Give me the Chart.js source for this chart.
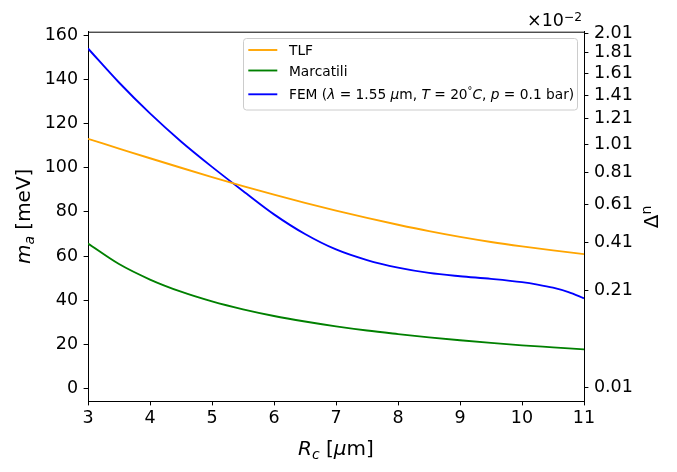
<!DOCTYPE html>
<html><head><meta charset="utf-8">
<script src="https://cdn.jsdelivr.net/npm/chart.js@4.4.1/dist/chart.umd.min.js"></script>
<style>html,body{margin:0;padding:0;background:#fff;}#wrap{width:677px;height:472px;position:relative;}</style>
</head><body><div id="wrap"><canvas id="c"></canvas></div>
<script>
// ---- data ----
const rc = [3, 3.5, 4, 4.5, 5, 5.5, 6, 6.5, 7, 7.5, 8, 8.5, 9, 9.5, 10, 10.5, 11];
const tlf = [113.1, 108.7, 104.3, 100.0, 95.8, 91.7, 87.8, 84.1, 80.6, 77.3, 74.2, 71.3, 68.7, 66.4, 64.4, 62.6, 60.9];
const marcatili = [65.7, 56.4, 49.4, 43.9, 39.5, 35.9, 32.9, 30.4, 28.2, 26.3, 24.7, 23.2, 21.9, 20.7, 19.6, 18.7, 17.8];
const femRc = [3, 3.5, 4, 4.5, 5, 5.5, 6, 6.5, 7, 7.5, 8, 8.5, 9, 9.5, 10, 10.25, 10.5, 10.75, 11];
const fem = [154.0, 138.6, 124.6, 111.9, 100.4, 89.5, 78.9, 70.0, 63.0, 58.2, 54.8, 52.4, 50.9, 49.7, 48.2, 47.1, 45.7, 43.7, 40.9];
const xTicks = [3, 4, 5, 6, 7, 8, 9, 10, 11];
const yTicks = [0, 20, 40, 60, 80, 100, 120, 140, 160];
const dnTicks = [0.01, 0.21, 0.41, 0.61, 0.81, 1.01, 1.21, 1.41, 1.61, 1.81, 2.01];
const dnLabels = ['0.01', '0.21', '0.41', '0.61', '0.81', '1.01', '1.21', '1.41', '1.61', '1.81', '2.01'];
const seriesLabels = ['TLF', 'Marcatili', 'FEM (λ = 1.55 μm, T = 20°C, p = 0.1 bar)'];
const seriesColors = ['#FFA500', '#008000', '#0000FF'];
const seriesX = [rc, rc, femRc];
const seriesValues = [tlf, marcatili, fem];

// secondary axis relation between Δn (×1e-2) and m_a
const DN_K = 121.5, DN_C = -11.45;
const dnToMa = d => DN_K * Math.sqrt(d) + DN_C;
const Y_MIN = -5.6, Y_MAX = 161.6;

const FONT = '"DejaVu Sans"';
function fnt(size, italic) { return (italic ? 'italic ' : '') + size + 'px ' + FONT; }
function drawRich(ctx, segs, x, y, size, align) {
  const parts = segs.map(s => {
    const sz = (s.sup || s.sub) ? size * 0.7 : size;
    ctx.font = fnt(sz, s.i);
    return { s, sz, w: ctx.measureText(s.t).width };
  });
  const total = parts.reduce((a, p) => a + p.w, 0);
  let cx = align === 'center' ? x - total / 2 : align === 'right' ? x - total : x;
  ctx.textAlign = 'left';
  ctx.textBaseline = 'alphabetic';
  for (const p of parts) {
    ctx.font = fnt(p.sz, p.s.i);
    let dy = 0;
    if (p.s.sup) dy = -(p.s.raise != null ? p.s.raise : size * 0.38);
    if (p.s.sub) dy = size * 0.2;
    ctx.fillText(p.s.t, cx, y + dy);
    cx += p.w;
  }
}

const richLegend = [
  [{ t: 'TLF' }],
  [{ t: 'Marcatili' }],
  [{ t: 'FEM (' }, { t: 'λ', i: 1 }, { t: ' = 1.55 ' }, { t: 'μ', i: 1 }, { t: 'm, ' }, { t: 'T', i: 1 }, { t: ' = 20' },
   { t: '°', sup: 1 }, { t: 'C', i: 1 }, { t: ', ' }, { t: 'p', i: 1 }, { t: ' = 0.1 bar)' }]
];

const decor = {
  id: 'decor',
  afterDraw(chart) {
    const ctx = chart.ctx, a = chart.chartArea;
    ctx.save();
    // top spine
    ctx.strokeStyle = '#000'; ctx.lineWidth = 1;
    ctx.beginPath(); ctx.moveTo(a.left, a.top + 0.5); ctx.lineTo(a.right, a.top + 0.5); ctx.stroke();

    // legend
    const bx = 243.5, by = 38.5, bw = 334, bh = 71.5, r = 3;
    ctx.beginPath();
    ctx.moveTo(bx + r, by); ctx.lineTo(bx + bw - r, by); ctx.arcTo(bx + bw, by, bx + bw, by + r, r);
    ctx.lineTo(bx + bw, by + bh - r); ctx.arcTo(bx + bw, by + bh, bx + bw - r, by + bh, r);
    ctx.lineTo(bx + r, by + bh); ctx.arcTo(bx, by + bh, bx, by + bh - r, r);
    ctx.lineTo(bx, by + r); ctx.arcTo(bx, by, bx + r, by, r); ctx.closePath();
    ctx.fillStyle = 'rgba(255,255,255,0.8)'; ctx.fill();
    ctx.strokeStyle = '#cccccc'; ctx.lineWidth = 1; ctx.stroke();
    const lineY = [50, 70.5, 94.3], textY = [55.3, 76, 99.3];
    chart.data.datasets.forEach((ds, i) => {
      ctx.strokeStyle = ds.borderColor; ctx.lineWidth = 1.875;
      ctx.beginPath(); ctx.moveTo(248.3, lineY[i]); ctx.lineTo(277.3, lineY[i]); ctx.stroke();
      ctx.fillStyle = '#000';
      drawRich(ctx, richLegend[i], 289, textY[i], 13.75, 'left');
    });

    ctx.fillStyle = '#000';
    // x title
    drawRich(ctx, [{ t: 'R', i: 1 }, { t: 'c', i: 1, sub: 1 }, { t: ' [' }, { t: 'μ', i: 1 }, { t: 'm]' }],
      (a.left + a.right) / 2, 455, 20, 'center');
    // left y title
    ctx.save();
    ctx.translate(30, (a.top + a.bottom) / 2); ctx.rotate(-Math.PI / 2);
    drawRich(ctx, [{ t: 'm', i: 1 }, { t: 'a', i: 1, sub: 1 }, { t: ' [meV]' }], 0, 0, 20, 'center');
    ctx.restore();
    // right y title
    ctx.save();
    ctx.translate(658, 217); ctx.rotate(-Math.PI / 2);
    drawRich(ctx, [{ t: 'Δ' }, { t: 'n', sup: 1, raise: 7 }], 0, 0, 20, 'center');
    ctx.restore();
    // offset text
    drawRich(ctx, [{ t: '×10' }, { t: '−2', sup: 1, raise: 5.5 }], 582, 26, 17.5, 'right');
    ctx.restore();
  }
};

const tickFont = { family: 'DejaVu Sans', size: 17.5 };
const gridCfg = { drawOnChartArea: false, drawTicks: true, tickLength: 4.4, color: '#000', tickColor: '#000', lineWidth: 1, tickWidth: 1 };

new Chart(document.getElementById('c'), {
  type: 'line',
  data: {
    datasets: seriesLabels.map((lbl, i) => ({
      label: lbl,
      data: seriesX[i].map((x, j) => ({ x: x, y: seriesValues[i][j] })),
      borderColor: seriesColors[i],
      backgroundColor: seriesColors[i],
      borderWidth: 1.875,
      pointRadius: 0,
      fill: false,
      cubicInterpolationMode: 'monotone',
      yAxisID: 'y'
    }))
  },
  options: {
    responsive: true,
    maintainAspectRatio: false,
    animation: false,
    layout: { padding: { top: 31.7, left: 0, right: 0, bottom: 0 } },
    plugins: { legend: { display: false }, tooltip: { enabled: false } },
    scales: {
      x: {
        type: 'linear', min: 3, max: 11,
        afterBuildTicks: s => { s.ticks = xTicks.map(v => ({ value: v })); },
        ticks: { font: tickFont, color: '#000', padding: 2.5, autoSkip: false, maxRotation: 0 },
        grid: gridCfg,
        border: { display: true, color: '#000', width: 1 },
        afterFit: s => { s.height = 71; }
      },
      y: {
        type: 'linear', position: 'left', min: Y_MIN, max: Y_MAX,
        afterBuildTicks: s => { s.ticks = yTicks.map(v => ({ value: v })); },
        ticks: { font: tickFont, color: '#000', padding: 5.5, autoSkip: false },
        grid: gridCfg,
        border: { display: true, color: '#000', width: 1 },
        afterFit: s => { s.width = 88; }
      },
      y2: {
        type: 'linear', position: 'right', min: Y_MIN, max: Y_MAX,
        afterBuildTicks: s => { s.ticks = dnTicks.map(d => ({ value: dnToMa(d) })); },
        ticks: { font: tickFont, color: '#000', padding: 5.5, autoSkip: false, callback: (v, i) => dnLabels[i] },
        grid: gridCfg,
        border: { display: true, color: '#000', width: 1 },
        afterFit: s => { s.width = 93; }
      }
    }
  },
  plugins: [decor]
});
</script>
</body></html>
